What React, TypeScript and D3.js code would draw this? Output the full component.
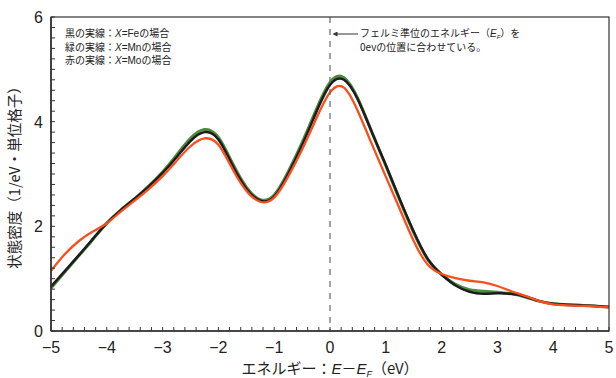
import React from 'react';
import * as d3 from 'd3';

// energy grid (eV), relative to the Fermi level
const energy = [
  -5, -4.75, -4.5, -4.25, -4, -3.75, -3.5, -3.25, -3, -2.75, -2.5, -2.25, -2, -1.75, -1.5, -1.25, -1,
  -0.75, -0.5, -0.25, 0, 0.25, 0.5, 0.75, 1, 1.25, 1.5, 1.75, 2, 2.25, 2.5, 2.75, 3, 3.25, 3.5, 3.75,
  4, 4.25, 4.5, 4.75, 5,
];

// density of states (1/eV per unit cell)
const dosFe = [
  0.85, 1.15, 1.45, 1.76, 2.06, 2.31, 2.53, 2.76, 3.02, 3.32, 3.63, 3.8, 3.66, 3.17, 2.72, 2.49, 2.57,
  3.0, 3.55, 4.17, 4.7, 4.8, 4.42, 3.8, 3.17, 2.52, 1.9, 1.38, 1.08, 0.87, 0.75, 0.71, 0.72, 0.71, 0.66,
  0.57, 0.52, 0.5, 0.49, 0.48, 0.46,
];
const dosMn = [
  0.82, 1.13, 1.44, 1.75, 2.06, 2.31, 2.53, 2.77, 3.04, 3.36, 3.68, 3.85, 3.7, 3.21, 2.75, 2.51, 2.6,
  3.04, 3.6, 4.22, 4.75, 4.84, 4.44, 3.8, 3.16, 2.5, 1.88, 1.37, 1.08, 0.89, 0.79, 0.76, 0.74, 0.71, 0.65,
  0.57, 0.52, 0.5, 0.49, 0.48, 0.46,
];
const dosMo = [
  1.15, 1.47, 1.72, 1.9, 2.06, 2.28, 2.49, 2.71, 2.96, 3.25, 3.53, 3.68, 3.56, 3.1, 2.68, 2.47, 2.55,
  2.95, 3.47, 4.05, 4.56, 4.65, 4.2, 3.57, 2.95, 2.33, 1.72, 1.27, 1.09, 1.01, 0.96, 0.93, 0.86, 0.76, 0.67,
  0.57, 0.51, 0.49, 0.48, 0.47, 0.45,
];

const xTicks = [-5, -4, -3, -2, -1, 0, 1, 2, 3, 4, 5];
const yTicks = [0, 2, 4, 6];

const legendLines = [
  {head: '黒の実線：', elem: '=Fe', tail: 'の場合'},
  {head: '緑の実線：', elem: '=Mn', tail: 'の場合'},
  {head: '赤の実線：', elem: '=Mo', tail: 'の場合'},
];

const W = 616;
const H = 378;
const m = {top: 17, right: 7, bottom: 47, left: 51};

const jp = '"Noto Sans CJK JP", sans-serif';
const num = '"Liberation Sans", Arial, sans-serif';

export default function App() {
  const x = d3.scaleLinear().domain([-5, 5]).range([m.left, W - m.right]);
  const y = d3.scaleLinear().domain([0, 6]).range([H - m.bottom, m.top]);

  const line = d3
    .line<number>()
    .x((_, i) => x(energy[i]))
    .y(d => y(d))
    .curve(d3.curveNatural);

  const xMinor = d3.range(-5, 5.001, 0.2);
  const yMinor = d3.range(0, 6.001, 0.2);
  const x0 = x(-5);
  const x1 = x(5);
  const y0 = y(0);
  const y1 = y(6);

  return (
    <svg width={W} height={H} style={{position: 'absolute', left: 0, top: 0, background: '#fff'}}>
      <defs>
        <marker id="ah" viewBox="0 0 10 10" refX="1" refY="5" markerWidth="6" markerHeight="5" orient="auto-start-reverse">
          <path d="M0,0 L10,5 L0,10 z" fill="#333" />
        </marker>
      </defs>

      {/* curves */}
      <path d={line(dosMn) ?? ''} fill="none" stroke="#4c8a3e" strokeWidth={3} />
      <path d={line(dosFe) ?? ''} fill="none" stroke="#1c1c1c" strokeWidth={2.5} />
      <path d={line(dosMo) ?? ''} fill="none" stroke="#fb4d1d" strokeWidth={2.3} />

      {/* Fermi level */}
      <line x1={x(0)} x2={x(0)} y1={y1} y2={y0} stroke="#666" strokeWidth={1.2} strokeDasharray="6,6" />

      {/* frame */}
      <rect x={x0} y={y1} width={x1 - x0} height={y0 - y1} fill="none" stroke="#333" strokeWidth={1.2} />
      <line x1={x0} x2={x0} y1={y1} y2={y0} stroke="#333" strokeWidth={1.6} />
      <line x1={x0} x2={x1} y1={y0} y2={y0} stroke="#333" strokeWidth={1.6} />

      {/* ticks */}
      {xMinor.map((v, i) => (
        <line key={'xm' + i} x1={x(v)} x2={x(v)} y1={y0} y2={y0 - 4} stroke="#333" strokeWidth={1} />
      ))}
      {yMinor.map((v, i) => (
        <line key={'ym' + i} x1={x0} x2={x0 + 4} y1={y(v)} y2={y(v)} stroke="#333" strokeWidth={1} />
      ))}
      {xTicks.map(v => (
        <text key={'xt' + v} x={x(v)} y={y0 + 22} textAnchor="middle" fontFamily={num} fontSize={16} fill="#222">
          {v < 0 ? '\u2212' + Math.abs(v) : v}
        </text>
      ))}
      {yTicks.map(v => (
        <text key={'yt' + v} x={x0 - 8} y={y(v) + 6} textAnchor="end" fontFamily={num} fontSize={16} fill="#222">
          {v}
        </text>
      ))}

      {/* axis titles */}
      <text x={(x0 + x1) / 2} y={374} textAnchor="middle" fontFamily={jp} fontSize={15} fill="#222">
        エネルギー：<tspan fontStyle="italic" fontFamily={num}>E</tspan>－<tspan fontStyle="italic" fontFamily={num}>E</tspan>
        <tspan fontStyle="italic" fontFamily={num} fontSize={9} dy={3}>F</tspan>
        <tspan dy={-3}>（eV）</tspan>
      </text>
      <text
        transform={`translate(20,${(y0 + y1) / 2}) rotate(-90)`}
        textAnchor="middle"
        fontFamily={jp}
        fontSize={14.5}
        fill="#222"
      >
        状態密度（1/eV・単位格子）
      </text>

      {/* legend */}
      {legendLines.map((l, i) => (
        <text key={'lg' + i} x={65} y={37 + i * 13.5} fontFamily={jp} fontSize={10} fill="#222">
          {l.head}
          <tspan fontStyle="italic" fontFamily={num}>X</tspan>
          <tspan fontFamily={num}>{l.elem}</tspan>
          {l.tail}
        </text>
      ))}

      {/* annotation */}
      <line x1={358} x2={337} y1={34} y2={34} stroke="#333" strokeWidth={1} markerEnd="url(#ah)" />
      <text x={360} y={37} fontFamily={jp} fontSize={10} fill="#222">
        フェルミ準位のエネルギー（<tspan fontStyle="italic" fontFamily={num}>E</tspan>
        <tspan fontStyle="italic" fontFamily={num} fontSize={6} dy={1.5}>F</tspan>
        <tspan dy={-1.5}>）を</tspan>
      </text>
      <text x={360} y={51} fontFamily={jp} fontSize={10} fill="#222">
        0evの位置に合わせている。
      </text>
    </svg>
  );
}
